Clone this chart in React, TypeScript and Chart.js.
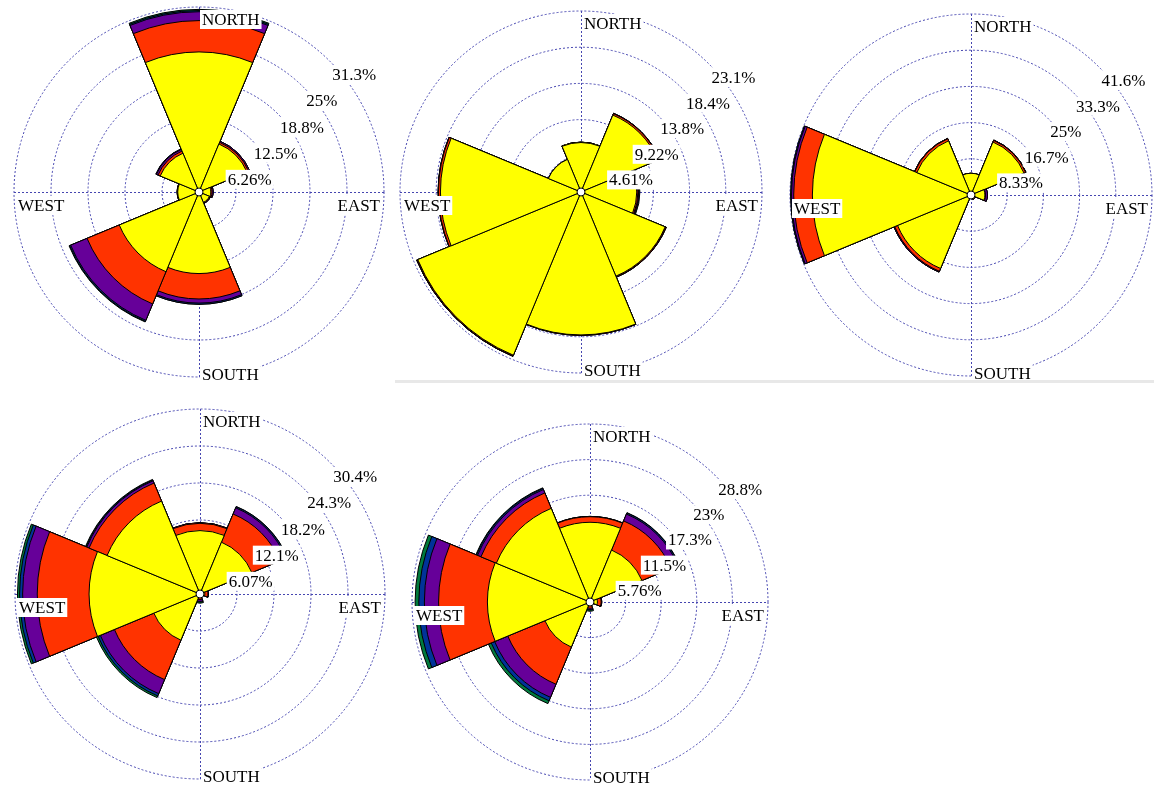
import React, { useEffect, useRef } from "react";
import { Chart, registerables } from "chart.js";

Chart.register(...registerables);

// ---------- data ----------
const directions = ["N", "NE", "E", "SE", "S", "SW", "W", "NW"];
const classColors = ["#FFFF00", "#FF3300", "#660099", "#003399", "#007A3D"];
const compassLabels = ["NORTH", "EAST", "SOUTH", "WEST"];

// Rose 1 (values in % per direction, per speed class)
const r1Yellow = [23.7, 8.8, 2.0, 1.9, 13.8, 14.6, 3.6, 7.1];
const r1Red = [5.3, 0.3, 0.2, 0.1, 4.3, 5.9, 0.1, 0.4];
const r1Purple = [1.5, 0.2, 0.2, 0.1, 0.7, 3.0, 0.0, 0.3];
const r1Blue = [0.2, 0.0, 0.0, 0.0, 0.2, 0.2, 0.0, 0.1];
const r1Green = [0.2, 0.0, 0.0, 0.0, 0.0, 0.1, 0.0, 0.0];
const r1TickValues = [6.26, 12.52, 18.78, 25.04, 31.3];
const r1TickLabels = ["6.26%", "12.5%", "18.8%", "25%", "31.3%"];

// Rose 2
const r2Yellow = [6.3, 10.6, 7.1, 11.6, 18.2, 22.5, 17.9, 4.5];
const r2Red = [0.05, 0.2, 0.15, 0.1, 0.05, 0.1, 0.25, 0.0];
const r2Purple = [0.0, 0.05, 0.1, 0.05, 0.0, 0.05, 0.05, 0.0];
const r2Blue = [0.0, 0.0, 0.05, 0.0, 0.0, 0.0, 0.0, 0.0];
const r2Green = [0.0, 0.0, 0.1, 0.0, 0.0, 0.0, 0.0, 0.0];
const r2TickValues = [4.61, 9.22, 13.83, 18.44, 23.05];
const r2TickLabels = ["4.61%", "9.22%", "13.8%", "18.4%", "23.1%"];

// Rose 3
const r3Yellow = [5.0, 13.2, 3.2, 1.0, 0.4, 18.3, 36.5, 13.5];
const r3Red = [0.0, 0.4, 0.15, 0.1, 0.0, 0.7, 4.3, 0.5];
const r3Purple = [0.0, 0.1, 0.45, 0.0, 0.0, 0.2, 0.5, 0.1];
const r3Blue = [0.0, 0.0, 0.0, 0.0, 0.0, 0.0, 0.2, 0.0];
const r3Green = [0.0, 0.0, 0.0, 0.0, 0.0, 0.0, 0.0, 0.0];
const r3TickValues = [8.33, 16.66, 24.99, 33.32, 41.65];
const r3TickLabels = ["8.33%", "16.7%", "25%", "33.3%", "41.6%"];

// Rose 4
const r4Yellow = [10.4, 9.2, 0.8, 0.3, 0.5, 8.2, 18.2, 16.5];
const r4Red = [1.2, 5.0, 0.5, 0.2, 0.4, 7.0, 8.5, 3.2];
const r4Purple = [0.1, 1.1, 0.1, 0.1, 0.3, 2.5, 2.4, 0.4];
const r4Blue = [0.0, 0.2, 0.0, 0.0, 0.1, 0.4, 0.5, 0.15];
const r4Green = [0.0, 0.05, 0.0, 0.0, 0.2, 0.3, 0.35, 0.1];
const r4TickValues = [6.07, 12.14, 18.21, 24.28, 30.35];
const r4TickLabels = ["6.07%", "12.1%", "18.2%", "24.3%", "30.4%"];

// Rose 5
const r5Yellow = [12.9, 9.1, 1.2, 0.3, 0.6, 7.9, 16.6, 16.4];
const r5Red = [0.9, 5.1, 0.6, 0.2, 0.4, 6.5, 7.9, 2.7];
const r5Purple = [0.05, 1.2, 0.1, 0.1, 0.2, 2.3, 2.3, 0.6];
const r5Blue = [0.0, 0.2, 0.0, 0.0, 0.1, 0.6, 0.9, 0.2];
const r5Green = [0.0, 0.05, 0.0, 0.0, 0.2, 0.5, 0.6, 0.1];
const r5TickValues = [5.76, 11.52, 17.28, 23.04, 28.8];
const r5TickLabels = ["5.76%", "11.5%", "17.3%", "23%", "28.8%"];

// ---------- styling / layout ----------
const GRID_COLOR = "#4646b0";
const FONT = '17px "Liberation Serif", "Times New Roman", serif';

type Panel = {
  series: number[][];
  tickValues: number[];
  tickLabels: string[];
  left: number;
  top: number;
  width: number;
  height: number;
  cx: number;
  cy: number;
  radius: number;
};

const panels: Panel[] = [
  {
    series: [r1Yellow, r1Red, r1Purple, r1Blue, r1Green],
    tickValues: r1TickValues,
    tickLabels: r1TickLabels,
    left: 0, top: 0, width: 392, height: 382,
    cx: 199, cy: 192, radius: 185,
  },
  {
    series: [r2Yellow, r2Red, r2Purple, r2Blue, r2Green],
    tickValues: r2TickValues,
    tickLabels: r2TickLabels,
    left: 392, top: 0, width: 386, height: 380,
    cx: 581, cy: 192, radius: 181,
  },
  {
    series: [r3Yellow, r3Red, r3Purple, r3Blue, r3Green],
    tickValues: r3TickValues,
    tickLabels: r3TickLabels,
    left: 778, top: 0, width: 376, height: 380,
    cx: 971, cy: 195, radius: 181,
  },
  {
    series: [r4Yellow, r4Red, r4Purple, r4Blue, r4Green],
    tickValues: r4TickValues,
    tickLabels: r4TickLabels,
    left: 0, top: 400, width: 392, height: 386,
    cx: 200, cy: 594, radius: 185,
  },
  {
    series: [r5Yellow, r5Red, r5Purple, r5Blue, r5Green],
    tickValues: r5TickValues,
    tickLabels: r5TickLabels,
    left: 392, top: 400, width: 386, height: 386,
    cx: 590, cy: 602, radius: 178,
  },
];

function cumulative(series: number[][]): number[][] {
  const out: number[][] = [];
  let acc = series[0].map(() => 0);
  for (const s of series) {
    acc = acc.map((a, i) => a + s[i]);
    out.push(acc.slice());
  }
  return out;
}

function labelWithBox(ctx: CanvasRenderingContext2D, text: string, x: number, y: number, align: "left" | "right") {
  const w = ctx.measureText(text).width;
  const left = align === "left" ? x : x - w;
  ctx.fillStyle = "#ffffff";
  ctx.fillRect(left - 2, y - 15, w + 4, 19);
  ctx.fillStyle = "#000000";
  ctx.textAlign = "left";
  ctx.textBaseline = "alphabetic";
  ctx.fillText(text, left, y);
}

function makeDecor(tickValues: number[], tickLabels: string[]) {
  return {
    id: "roseDecor",
    beforeDatasetsDraw(chart: any) {
      const s = chart.scales.r;
      const ctx: CanvasRenderingContext2D = chart.ctx;
      const cx = s.xCenter;
      const cy = s.yCenter;
      const R = s.drawingArea;
      ctx.save();
      ctx.strokeStyle = GRID_COLOR;
      ctx.lineWidth = 1;
      ctx.setLineDash([2, 2]);
      ctx.beginPath();
      ctx.moveTo(cx - R, cy + 0.5);
      ctx.lineTo(cx + R, cy + 0.5);
      ctx.moveTo(cx + 0.5, cy - R);
      ctx.lineTo(cx + 0.5, cy + R);
      ctx.stroke();
      ctx.restore();
    },
    afterDatasetsDraw(chart: any) {
      const s = chart.scales.r;
      const ctx: CanvasRenderingContext2D = chart.ctx;
      const cx = s.xCenter;
      const cy = s.yCenter;
      const R = s.drawingArea;
      ctx.save();
      // centre marker
      ctx.beginPath();
      ctx.arc(cx, cy, 4, 0, Math.PI * 2);
      ctx.fillStyle = "#ffffff";
      ctx.fill();
      ctx.strokeStyle = "#000000";
      ctx.lineWidth = 1;
      ctx.stroke();

      ctx.font = FONT;
      const c45 = Math.SQRT1_2;
      tickValues.forEach((v, i) => {
        const r = s.getDistanceFromCenterForValue(v);
        labelWithBox(ctx, tickLabels[i], cx + r * c45 + 2.5, cy - r * c45 + 19, "left");
      });
      labelWithBox(ctx, compassLabels[0], cx + 3, cy - R + 18, "left");
      labelWithBox(ctx, compassLabels[1], cx + R - 4, cy + 19, "right");
      labelWithBox(ctx, compassLabels[2], cx + 3, cy + R + 3, "left");
      labelWithBox(ctx, compassLabels[3], cx - R + 4, cy + 19, "left");
      ctx.restore();
    },
  };
}

function Rose({ p }: { p: Panel }) {
  const ref = useRef<HTMLCanvasElement | null>(null);
  useEffect(() => {
    if (!ref.current) return;
    const cum = cumulative(p.series);
    const max = p.tickValues[p.tickValues.length - 1];
    const lx = p.cx - p.left;
    const ly = p.cy - p.top;
    const chart = new Chart(ref.current, {
      type: "polarArea",
      data: {
        labels: directions,
        datasets: cum.map((d, k) => ({
          data: d,
          backgroundColor: classColors[k],
          borderColor: "#000000",
          borderWidth: 1,
        })),
      },
      options: {
        responsive: false,
        animation: false,
        events: [],
        layout: {
          padding: {
            left: lx - p.radius,
            right: p.width - (lx + p.radius),
            top: ly - p.radius,
            bottom: p.height - (ly + p.radius),
          },
        },
        plugins: {
          legend: { display: false },
          tooltip: { enabled: false },
        },
        scales: {
          r: {
            min: 0,
            max,
            startAngle: -22.5,
            ticks: { display: false },
            grid: { color: GRID_COLOR, lineWidth: 1, circular: true },
            border: { dash: [2, 2] },
            angleLines: { display: false },
            pointLabels: { display: false },
            afterBuildTicks: (sc: any) => {
              sc.ticks = [0, ...p.tickValues].map((v) => ({ value: v }));
            },
          } as any,
        },
      },
      plugins: [makeDecor(p.tickValues, p.tickLabels)],
    });
    return () => chart.destroy();
  }, [p]);
  return (
    <div
      style={{
        position: "absolute",
        left: p.left,
        top: p.top,
        width: p.width,
        height: p.height,
        overflow: "hidden",
      }}
    >
      <canvas ref={ref} width={p.width} height={p.height} style={{ width: p.width, height: p.height, display: "block" }} />
    </div>
  );
}

export default function App() {
  return (
    <div
      style={{
        position: "absolute",
        left: 0,
        top: 0,
        width: 1154,
        height: 786,
        background: "#ffffff",
        overflow: "hidden",
      }}
    >
      {panels.map((p, i) => (
        <Rose key={i} p={p} />
      ))}
      <div style={{ position: "absolute", left: 395, top: 380, width: 759, height: 3, background: "#e8e8e8" }} />
    </div>
  );
}
